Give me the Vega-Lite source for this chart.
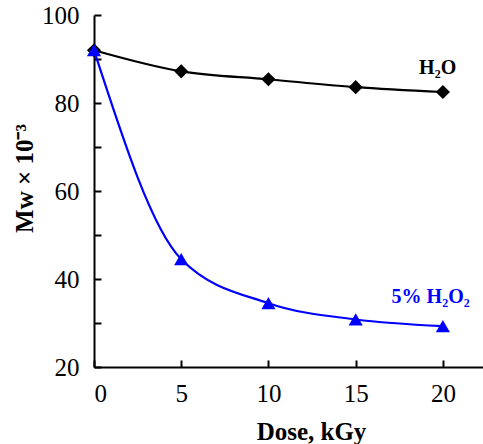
{
  "$schema": "https://vega.github.io/schema/vega-lite/v6.json",
  "autosize": "none",
  "width": 389,
  "height": 352,
  "padding": {"left": 94, "top": 15, "right": 0, "bottom": 77},
  "background": "white",
  "config": {
    "view": {"stroke": null},
    "font": "Liberation Serif",
    "axis": {
      "domainColor": "black",
      "domainWidth": 2,
      "tickColor": "black",
      "tickWidth": 2,
      "grid": false,
      "labelFont": "Liberation Serif",
      "labelFontSize": 25,
      "labelColor": "black",
      "titleFont": "Liberation Serif",
      "titleFontSize": 25,
      "titleFontWeight": "bold",
      "titleColor": "black"
    }
  },
  "datasets": {
    "pts": [
      {"dose": 0, "mw": 92.0, "series": "H2O"},
      {"dose": 5, "mw": 87.2, "series": "H2O"},
      {"dose": 10, "mw": 85.4, "series": "H2O"},
      {"dose": 15, "mw": 83.6, "series": "H2O"},
      {"dose": 20, "mw": 82.5, "series": "H2O"},
      {"dose": 0, "mw": 92.0, "series": "5% H2O2"},
      {"dose": 5, "mw": 44.5, "series": "5% H2O2"},
      {"dose": 10, "mw": 34.5, "series": "5% H2O2"},
      {"dose": 15, "mw": 30.8, "series": "5% H2O2"},
      {"dose": 20, "mw": 29.3, "series": "5% H2O2"}
    ],
    "labels": [
      {"dose": 19.7, "mw": 88.0, "series": "H2O", "text": "H₂O"},
      {"dose": 19.3, "mw": 35.9, "series": "5% H2O2", "text": "5% H₂O₂"}
    ]
  },
  "resolve": {"axis": {"x": "independent", "y": "independent"}},
  "layer": [
    {
      "mark": {"type": "rule", "color": "black", "strokeWidth": 2},
      "encoding": {
        "y": {"datum": 100, "type": "quantitative", "scale": {"domain": [20, 100], "nice": false},
              "axis": {"orient": "left", "values": [20, 30, 40, 50, 60, 70, 80, 90, 100], "offset": -7, "tickSize": 7, "domain": false, "labels": false, "title": null}},
        "x": {"datum": 0, "type": "quantitative", "scale": {"domain": [0, 22.3], "nice": false},
              "axis": {"orient": "bottom", "values": [0, 5, 10, 15, 20], "offset": -7, "tickSize": 7, "domain": false, "labels": false, "title": null}},
        "x2": {"datum": 22.3}
      }
    },
    {
      "data": {"name": "pts"},
      "mark": {"type": "line", "interpolate": "monotone", "strokeWidth": 2.2},
      "encoding": {
        "x": {"field": "dose", "type": "quantitative", "scale": {"domain": [0, 22.3], "nice": false},
              "axis": {"orient": "bottom", "values": [0, 5, 10, 15, 20], "ticks": false, "title": "Dose, kGy", "titlePadding": 13, "labelPadding": 14, "titleX": 217}},
        "y": {"field": "mw", "type": "quantitative", "scale": {"domain": [20, 100], "nice": false},
              "axis": {"orient": "left", "values": [20, 30, 40, 50, 60, 70, 80, 90, 100], "ticks": false, "labelExpr": "datum.value % 20 == 0 ? datum.label : ''", "title": "Mw × 10⁻³", "labelPadding": 15, "titlePadding": 4, "titleY": 163}},
        "color": {"field": "series", "type": "nominal", "scale": {"domain": ["H2O", "5% H2O2"], "range": ["black", "blue"]}, "legend": null},
        "detail": {"field": "series"}
      }
    },
    {
      "data": {"name": "pts"},
      "mark": {"type": "point", "filled": true, "opacity": 1, "size": 200},
      "encoding": {
        "x": {"field": "dose", "type": "quantitative", "axis": null},
        "y": {"field": "mw", "type": "quantitative", "axis": null},
        "color": {"field": "series", "type": "nominal", "legend": null},
        "shape": {"field": "series", "type": "nominal", "scale": {"domain": ["H2O", "5% H2O2"], "range": ["diamond", "triangle-up"]}, "legend": null}
      }
    },
    {
      "data": {"name": "labels"},
      "mark": {"type": "text", "font": "Liberation Serif", "fontWeight": "bold", "fontSize": 20, "align": "center", "baseline": "middle"},
      "encoding": {
        "x": {"field": "dose", "type": "quantitative", "axis": null},
        "y": {"field": "mw", "type": "quantitative", "axis": null},
        "text": {"field": "text"},
        "color": {"field": "series", "type": "nominal", "legend": null}
      }
    }
  ]
}
